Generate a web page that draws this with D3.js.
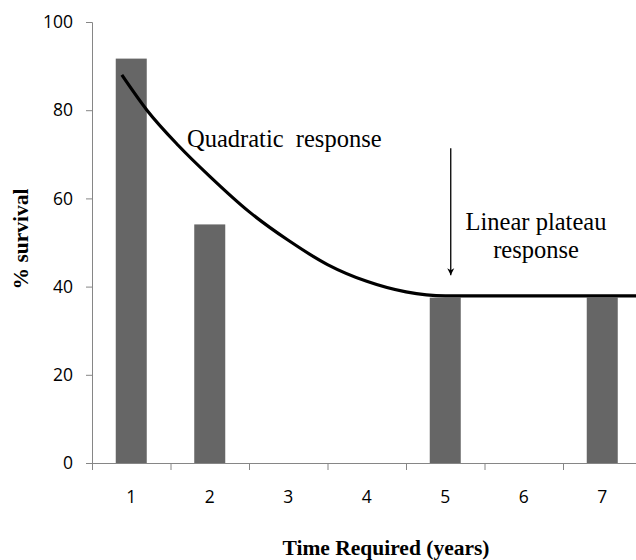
<!DOCTYPE html>
<html>
<head>
<meta charset="utf-8">
<script src="https://cdn.jsdelivr.net/npm/d3@7"></script>
<style>
  body { margin: 0; background: #fff; }
  svg { display: block; }
</style>
</head>
<body>
<div id="chart"></div>
<script>
// data
const years = [1, 2, 3, 4, 5, 6, 7]
const survival = [91.7, 54.1, null, null, 37.5, null, 37.5]
const yTicks = [0, 20, 40, 60, 80, 100]

// fitted response curve
const curveX = [0.88, 1.2, 1.6, 2, 2.5, 3, 3.5, 4, 4.5, 5, 6, 7.5]
const curveY = [88, 80, 72, 65, 57, 50.5, 45, 41.2, 38.8, 37.9, 37.9, 37.9]

// arrow pointing at the plateau start
const arrowX = 5.07
const arrowFrom = 71.4
const arrowTo = 42.6

const width = 636, height = 560
const margin = {top: 22, left: 92, bottom: 97}

const x = d3.scaleLinear().domain([0.5, 7.5]).range([margin.left, 641.5])
const y = d3.scaleLinear().domain([0, 100]).range([height - margin.bottom, margin.top])
const barW = 31

const svg = d3.select("#chart").append("svg")
    .attr("width", width)
    .attr("height", height)

svg.append("defs").append("marker")
    .attr("id", "head")
    .attr("viewBox", "0 0 10 10")
    .attr("refX", 10).attr("refY", 5)
    .attr("markerWidth", 7).attr("markerHeight", 8)
    .attr("markerUnits", "userSpaceOnUse")
    .attr("orient", "auto")
  .append("path")
    .attr("d", "M0,0 L10,5 L0,10 L3,5 Z")
    .attr("fill", "#000")

// bars
svg.append("g")
  .selectAll("rect")
  .data(years.map((d, i) => ({year: d, v: survival[i]})).filter(d => d.v != null))
  .enter()
  .append("rect")
    .attr("x", d => x(d.year) - barW / 2)
    .attr("y", d => y(d.v))
    .attr("width", barW)
    .attr("height", d => y(0) - y(d.v))
    .attr("fill", "#666666")

const sans = "'Open Sans', Lato, sans-serif"

// y axis
const yAxis = svg.append("g")
    .attr("transform", `translate(${margin.left},0)`)
    .call(d3.axisLeft(y).tickValues(yTicks).tickSize(6).tickPadding(13))
yAxis.selectAll("text")
    .style("font-family", sans)
    .style("font-size", "17.5px")
    .attr("fill", "#000")

// x axis: ticks on the category boundaries, labels at the centers
const xAxis = svg.append("g")
    .attr("transform", `translate(0,${y(0)})`)
    .call(d3.axisBottom(x).tickValues(d3.range(0.5, 7.5, 1)).tickSize(7).tickFormat(""))
xAxis.select(".domain").attr("d", `M${x(0.5)},0.5H${width}`)

svg.append("g")
  .selectAll("text")
  .data(years)
  .enter()
  .append("text")
    .attr("x", d => x(d))
    .attr("y", y(0) + 40)
    .attr("text-anchor", "middle")
    .style("font-family", sans)
    .style("font-size", "17.5px")
    .text(d => d)

svg.selectAll(".domain, .tick line").attr("stroke", "#868686")

// response curve
const line = d3.line()
    .x(d => x(d[0]))
    .y(d => y(d[1]))
    .curve(d3.curveMonotoneX)

svg.append("path")
    .datum(curveX.map((d, i) => [d, curveY[i]]))
    .attr("d", line)
    .attr("fill", "none")
    .attr("stroke", "#000")
    .attr("stroke-width", 3.2)

// arrow
svg.append("line")
    .attr("x1", x(arrowX)).attr("x2", x(arrowX))
    .attr("y1", y(arrowFrom)).attr("y2", y(arrowTo))
    .attr("stroke", "#000")
    .attr("stroke-width", 1.3)
    .attr("marker-end", "url(#head)")

// annotations
const serif = "'Liberation Serif', 'Times New Roman', serif"
svg.append("text")
    .attr("x", 187).attr("y", 147)
    .attr("xml:space", "preserve")
    .style("white-space", "pre")
    .style("font-family", serif)
    .style("font-size", "24.5px")
    .text("Quadratic  response")

svg.append("text")
    .attr("x", 536).attr("y", 230)
    .attr("text-anchor", "middle")
    .style("font-family", serif)
    .style("font-size", "24.5px")
    .text("Linear plateau")
svg.append("text")
    .attr("x", 536).attr("y", 258)
    .attr("text-anchor", "middle")
    .style("font-family", serif)
    .style("font-size", "24.5px")
    .text("response")

// axis titles
svg.append("text")
    .attr("transform", `translate(28,239) rotate(-90)`)
    .attr("text-anchor", "middle")
    .style("font-family", serif)
    .style("font-weight", "bold")
    .style("font-size", "21.5px")
    .text("% survival")

svg.append("text")
    .attr("x", 386).attr("y", 555)
    .attr("text-anchor", "middle")
    .style("font-family", serif)
    .style("font-weight", "bold")
    .style("font-size", "21.5px")
    .text("Time Required (years)")
</script>
</body>
</html>
